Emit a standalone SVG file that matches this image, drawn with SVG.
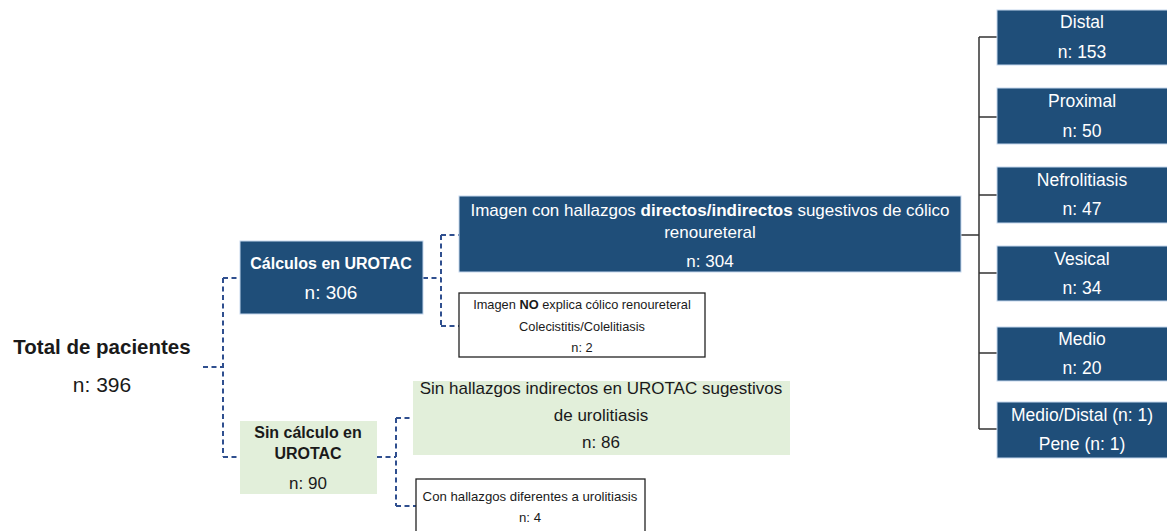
<svg xmlns="http://www.w3.org/2000/svg" width="1167" height="531" viewBox="0 0 1167 531">
<style>
text{font-family:"Liberation Sans",Arial,sans-serif;text-anchor:middle;}
.blue{fill:#1f4e79;stroke:#c5d7ee;stroke-width:1;}
.green{fill:#e2efda;stroke:none;}
.white{fill:#ffffff;stroke:#222222;stroke-width:1.3;}
.wt{fill:#ffffff;}
.dk{fill:#1a1a1a;}
.b{font-weight:bold;}
.dash{fill:none;stroke:#2f4f8f;stroke-width:2;stroke-dasharray:5 3.5;}
.solid{fill:none;stroke:#333333;stroke-width:1.5;}
</style>
<g id="connectors">
<path class="dash" d="M203,367 H223 M223,278 V457 M223,278 H240 M223,457 H240"/>
<path class="dash" d="M423,278 H441 M441,235 V326 M441,235 H459 M441,326 H459"/>
<path class="dash" d="M377,457 H396 M396,418 V506 M396,418 H413 M396,506 H416"/>
<path class="solid" d="M961,235 H979 M979,37 V429 M979,37 H997 M979,117 H997 M979,195 H997 M979,273 H997 M979,353 H997 M979,429 H997"/>
</g>
<g id="total">
<text x="102" y="354" class="dk b" font-size="20.5">Total de pacientes</text>
<text x="102" y="392" class="dk" font-size="21">n: 396</text>
</g>
<g id="calculos">
<rect class="blue" x="240" y="241" width="183" height="73"/>
<text x="331" y="269" class="wt b" font-size="16">Cálculos en UROTAC</text>
<text x="331" y="299" class="wt" font-size="19">n: 306</text>
</g>
<g id="sincalculo">
<rect class="green" x="240" y="421" width="137" height="73"/>
<text x="308" y="438" class="dk b" font-size="16">Sin cálculo en</text>
<text x="308" y="459" class="dk b" font-size="16">UROTAC</text>
<text x="308" y="489" class="dk" font-size="17">n: 90</text>
</g>
<g id="imagen">
<rect class="blue" x="459" y="196" width="502" height="76"/>
<text x="710" y="216" class="wt" font-size="17">Imagen con hallazgos <tspan class="b">directos/indirectos</tspan> sugestivos de cólico</text>
<text x="710" y="238" class="wt" font-size="17">renoureteral</text>
<text x="710" y="267" class="wt" font-size="17">n: 304</text>
</g>
<g id="imagen-no">
<rect class="white" x="459" y="293" width="246" height="64"/>
<text x="582" y="309" class="dk" font-size="12.8">Imagen <tspan class="b">NO</tspan> explica cólico renoureteral</text>
<text x="582" y="331" class="dk" font-size="12.8">Colecistitis/Colelitiasis</text>
<text x="582" y="352" class="dk" font-size="12.8">n: 2</text>
</g>
<g id="sinhallazgos">
<rect class="green" x="413" y="381" width="377" height="74"/>
<text x="601" y="394" class="dk" font-size="17">Sin hallazgos indirectos en UROTAC sugestivos</text>
<text x="601" y="421" class="dk" font-size="17">de urolitiasis</text>
<text x="601" y="448" class="dk" font-size="17">n: 86</text>
</g>
<g id="conhallazgos">
<rect class="white" x="416" y="479" width="229" height="60"/>
<text x="530" y="501" class="dk" font-size="13.2">Con hallazgos diferentes a urolitiasis</text>
<text x="530" y="522" class="dk" font-size="13.2">n: 4</text>
</g>
<g id="distal">
<rect class="blue" x="997" y="10" width="172" height="55"/>
<text x="1082" y="28" class="wt" font-size="17.5">Distal</text>
<text x="1082" y="58" class="wt" font-size="17.5">n: 153</text>
</g>
<g id="proximal">
<rect class="blue" x="997" y="88" width="172" height="56"/>
<text x="1082" y="107" class="wt" font-size="17.5">Proximal</text>
<text x="1082" y="137" class="wt" font-size="17.5">n: 50</text>
</g>
<g id="nefrolitiasis">
<rect class="blue" x="997" y="167" width="172" height="56"/>
<text x="1082" y="186" class="wt" font-size="17.5">Nefrolitiasis</text>
<text x="1082" y="215" class="wt" font-size="17.5">n: 47</text>
</g>
<g id="vesical">
<rect class="blue" x="997" y="246" width="172" height="55"/>
<text x="1082" y="265" class="wt" font-size="17.5">Vesical</text>
<text x="1082" y="294" class="wt" font-size="17.5">n: 34</text>
</g>
<g id="medio">
<rect class="blue" x="997" y="327" width="172" height="54"/>
<text x="1082" y="345" class="wt" font-size="17.5">Medio</text>
<text x="1082" y="374" class="wt" font-size="17.5">n: 20</text>
</g>
<g id="medio-distal">
<rect class="blue" x="997" y="402" width="172" height="56"/>
<text x="1082" y="421" class="wt" font-size="17.5">Medio/Distal (n: 1)</text>
<text x="1082" y="450" class="wt" font-size="17.5">Pene (n: 1)</text>
</g>
</svg>
